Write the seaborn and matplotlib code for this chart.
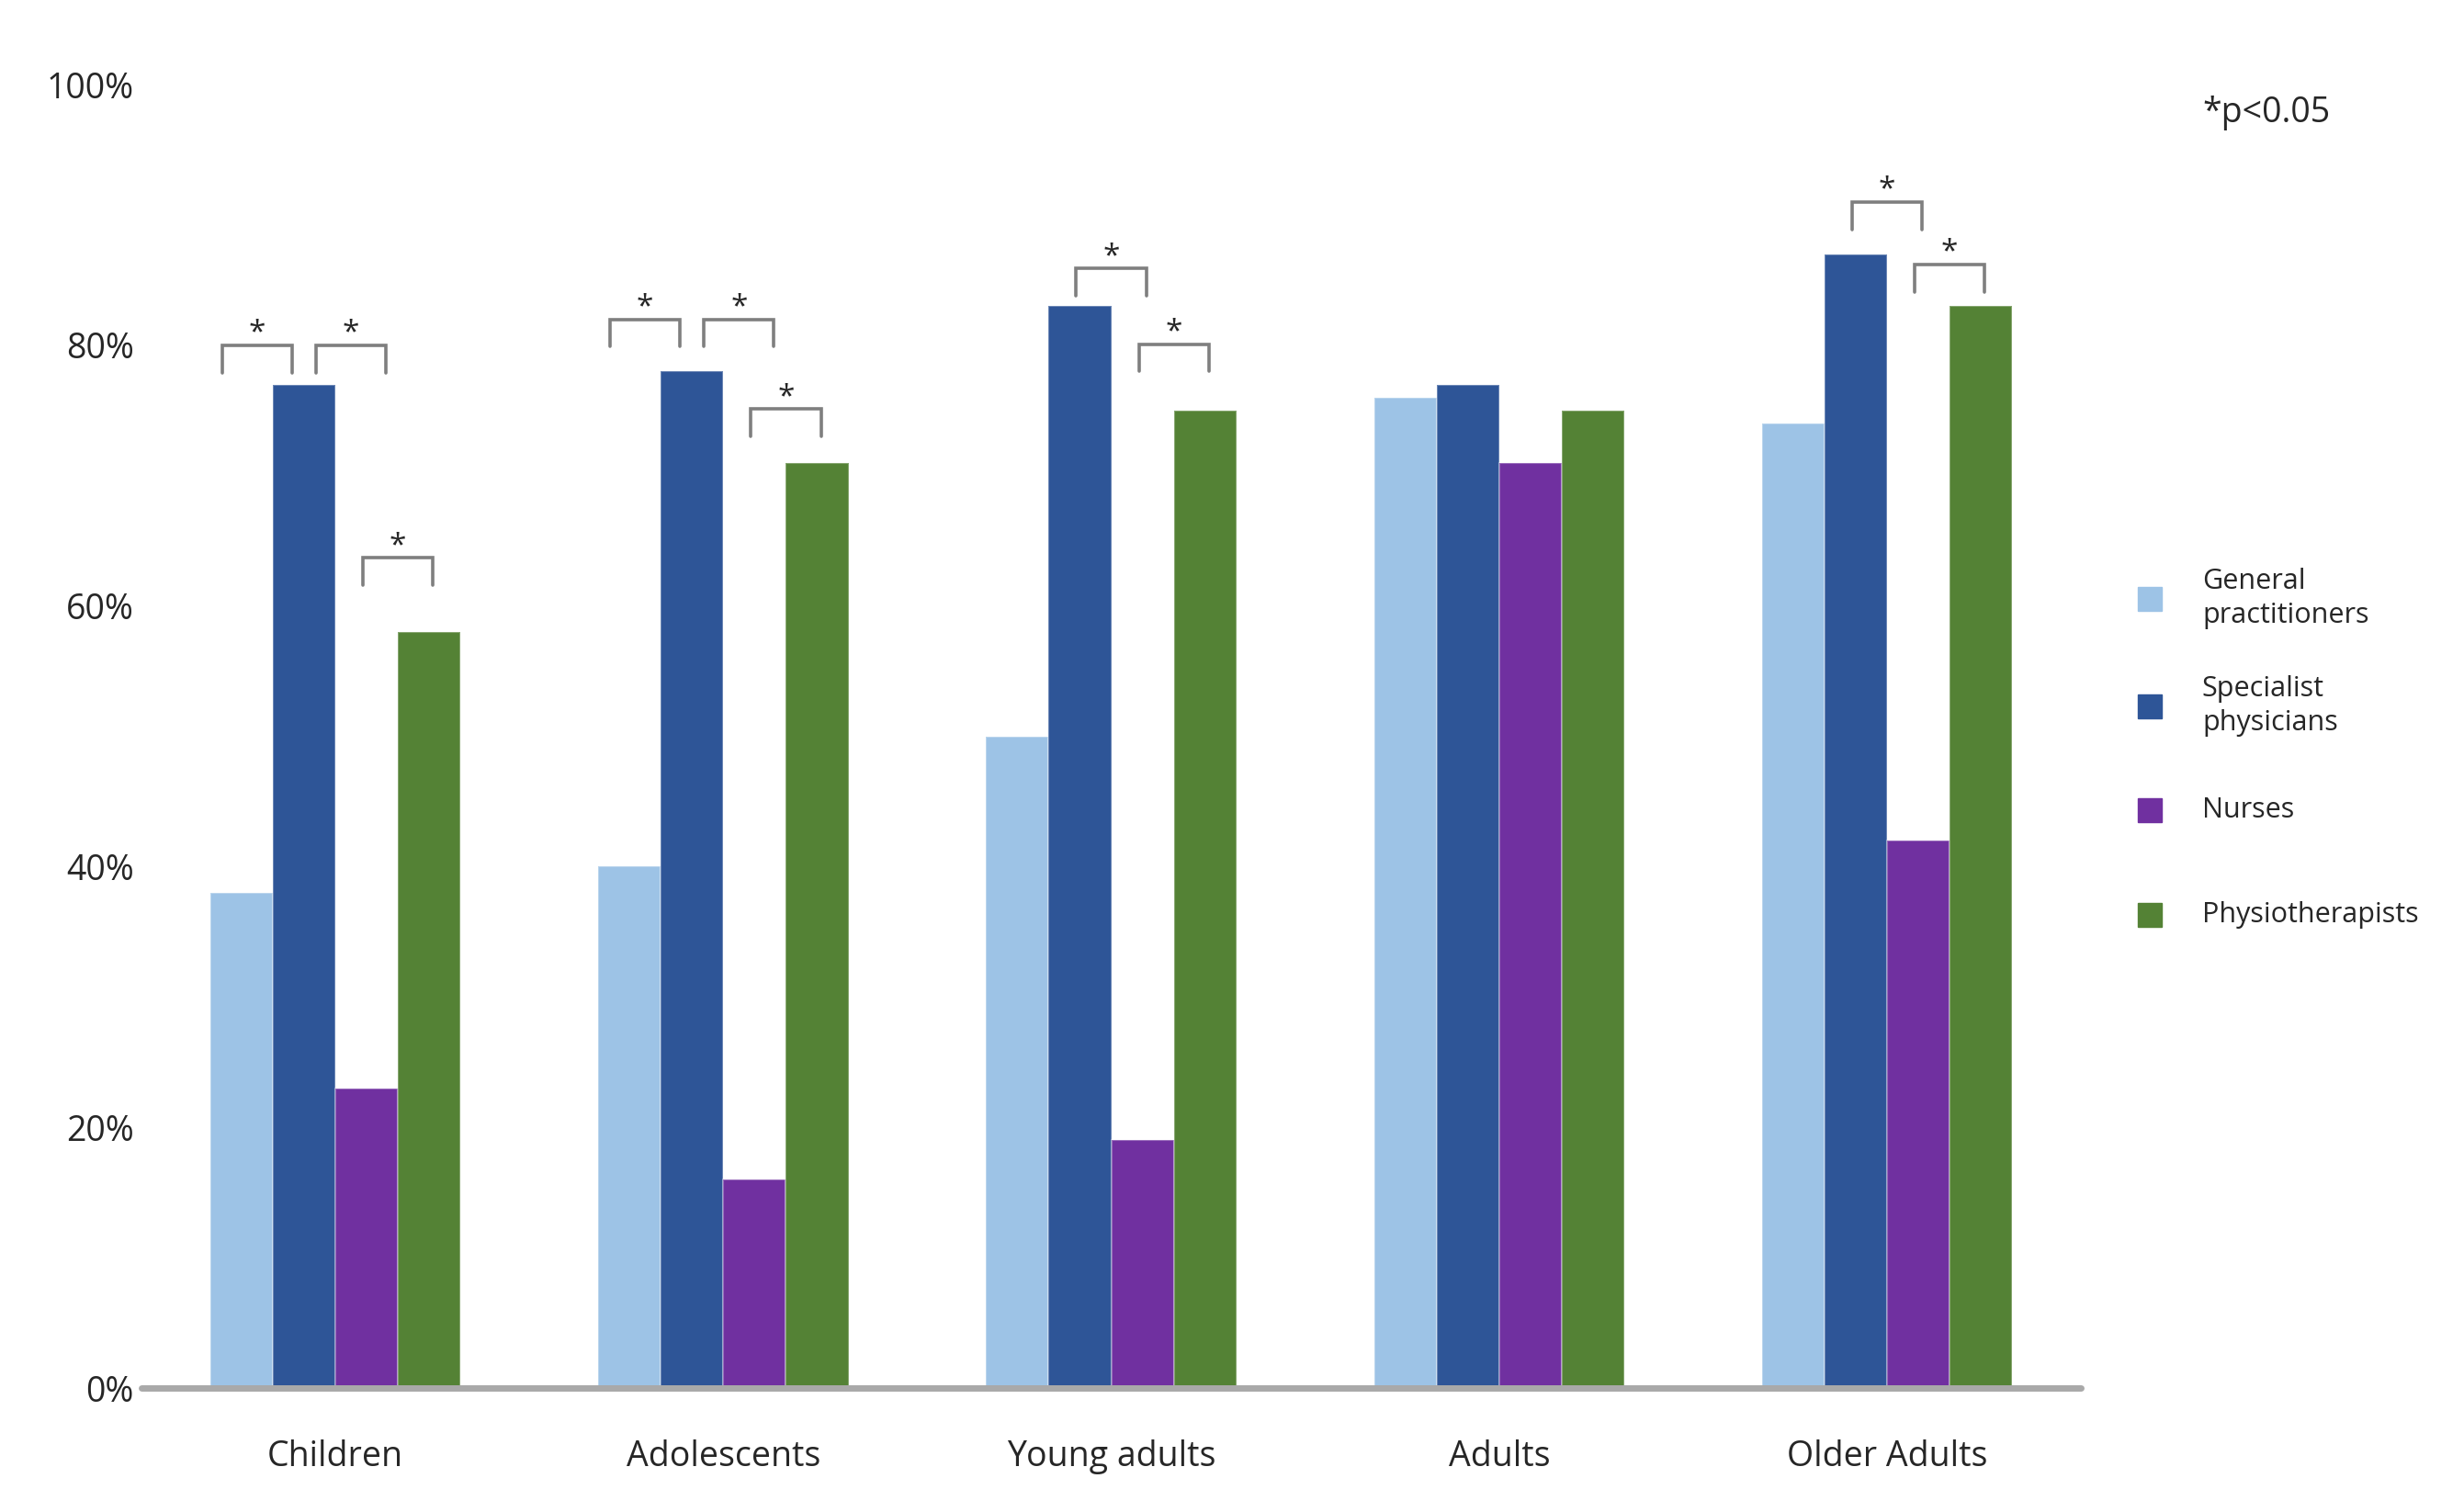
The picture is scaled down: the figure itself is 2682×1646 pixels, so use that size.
import pandas as pd
import matplotlib.pyplot as plt
import seaborn as sns
from matplotlib.patches import Rectangle

# Values (% of respondents)
groups = ['Children', 'Adolescents', 'Young adults', 'Adults', 'Older Adults']
professions = ['General practitioners', 'Specialist physicians', 'Nurses', 'Physiotherapists']
legend_labels = ['General\npractitioners', 'Specialist\nphysicians', 'Nurses', 'Physiotherapists']
gp = [38, 40, 50, 76, 74]
specialists = [77, 78, 83, 77, 87]
nurses = [23, 16, 19, 71, 42]
physio = [58, 71, 75, 75, 83]
colors = ['#9dc3e6', '#2e5597', '#7030a0', '#548235']
yticks = [0, 20, 40, 60, 80, 100]

# significance brackets: (group, first bar, second bar, height in %)
brackets = [
    (0, 0, 1, 80.0), (0, 1, 2, 80.0), (0, 2, 3, 63.7),
    (1, 0, 1, 82.0), (1, 1, 2, 82.0), (1, 2, 3, 75.1),
    (2, 1, 2, 85.9), (2, 2, 3, 80.1),
    (4, 1, 2, 91.0), (4, 2, 3, 86.2),
]

df = pd.DataFrame({
    'group': groups * 4,
    'profession': [p for p in professions for _ in groups],
    'value': gp + specialists + nurses + physio,
})

sns.set_style('white')
plt.rcParams['font.family'] = ['Open Sans', 'DejaVu Sans']

fig = plt.figure(figsize=(26.82, 16.46), dpi=100)
ax = fig.add_axes([0.0574, 0.082, 0.7872, 0.862])

sns.barplot(data=df, x='group', y='value', hue='profession', order=groups,
            hue_order=professions, palette=colors, width=0.645, gap=0,
            saturation=1, legend=False, edgecolor=(1, 1, 1, 0.3),
            linewidth=1.5, ax=ax)

ax.set_xlim(-0.5, len(groups) - 0.5)
ax.set_ylim(0, 100)
ax.set_yticks(yticks)
ax.set_yticklabels([f'{t}%' for t in yticks])
ax.set_xlabel('')
ax.set_ylabel('')
ax.tick_params(axis='x', length=0, pad=40, labelsize=27)
ax.tick_params(axis='y', length=0, pad=6, labelsize=27)
for s in ax.spines.values():
    s.set_visible(False)

# grey baseline
ax.axhline(0, color='#a9a9a9', lw=5, zorder=4, clip_on=False)

# brackets with asterisks
n = len(groups)
for g, a, b, h in brackets:
    pa = ax.patches[a * n + g]
    pb = ax.patches[b * n + g]
    bw = pa.get_width()
    ca = pa.get_x() + bw / 2
    cb = pb.get_x() + bw / 2
    mid = (ca + cb) / 2
    # push apart brackets sharing the same level in a group
    for g2, a2, b2, h2 in brackets:
        if g2 == g and h2 == h and (a2, b2) != (a, b):
            mid += 0.25 * bw if a2 < a else -0.25 * bw
    half = 0.56 * bw
    ax.plot([mid - half, mid - half, mid + half, mid + half],
            [h - 2.1, h, h, h - 2.1], color='#7f7f7f', lw=2.6,
            solid_joinstyle='miter', zorder=5)
    ax.text(mid, h + 0.3, '*', ha='center', va='baseline', fontsize=24)

fig.text(0.8937, 0.925, '*p<0.05', ha='left', va='center', fontsize=27)

# legend drawn by hand for even spacing
ys = [0.604, 0.533, 0.464, 0.395]
sw, sh = 0.0097, 0.0158
for lab, col, y in zip(legend_labels, colors, ys):
    fig.patches.append(Rectangle((0.8724 - sw / 2, y - sh / 2), sw, sh,
                                 transform=fig.transFigure, color=col))
    fig.text(0.8937, y, lab, ha='left', va='center', fontsize=22,
             linespacing=1.3)

fig.savefig('out.png', dpi=100)
